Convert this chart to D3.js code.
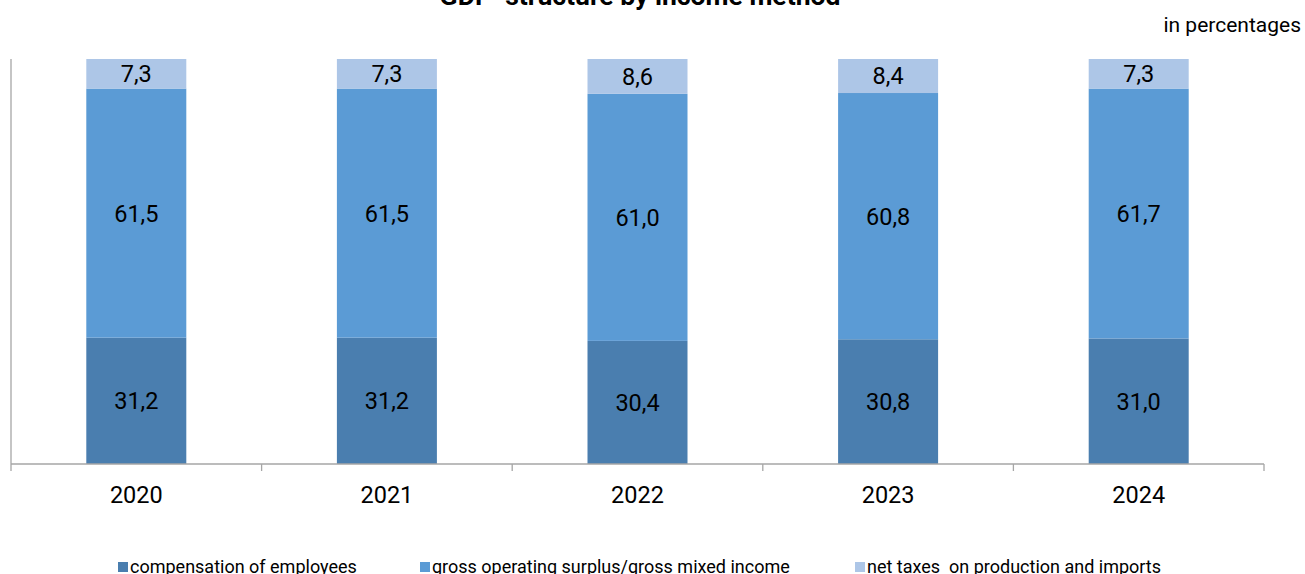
<!DOCTYPE html>
<html lang="en">
<head>
<meta charset="utf-8">
<script src="https://d3js.org/d3.v7.min.js"></script>
<style>
  body { margin: 0; background: #fff; }
  text { font-family: Roboto, "Liberation Sans", sans-serif; white-space: pre; }
</style>
<title>GDP structure by income method</title>
</head>
<body>
<div id="chart"></div>
<script>
  const years = ["2020", "2021", "2022", "2023", "2024"];
  const compensation = [31.2, 31.2, 30.4, 30.8, 31.0];
  const surplus = [61.5, 61.5, 61.0, 60.8, 61.7];
  const netTaxes = [7.3, 7.3, 8.6, 8.4, 7.3];
  const seriesNames = ["compensation of employees", "gross operating surplus/gross mixed income", "net taxes  on production and imports"];
  const colors = ["#4a7eaf", "#5b9bd5", "#adc6e7"];

  const W = 1305, H = 574;
  const margin = {top: 59, right: 41, bottom: 110, left: 11};
  const width = W - margin.left - margin.right,
        height = H - margin.top - margin.bottom;

  const svg = d3.select("#chart").append("svg")
    .attr("width", W)
    .attr("height", H);

  const g = svg.append("g")
    .attr("transform", `translate(${margin.left},${margin.top})`);

  const rows = years.map((y, i) => ({year: y, s0: compensation[i], s1: surplus[i], s2: netTaxes[i]}));
  const stacked = d3.stack().keys(["s0", "s1", "s2"])(rows);

  const x = d3.scaleBand().domain(years).range([0, width]).paddingInner(0).paddingOuter(0);
  const y = d3.scaleLinear().domain([0, 100]).range([height, 0]);
  const barW = 100;

  // bars + value labels
  stacked.forEach((layer, k) => {
    g.append("g").selectAll("rect")
      .data(layer)
      .join("rect")
        .attr("x", d => x(d.data.year) + x.bandwidth() / 2 - barW / 2)
        .attr("y", d => y(d[1]))
        .attr("width", barW)
        .attr("height", d => y(d[0]) - y(d[1]))
        .attr("fill", colors[k]);

    g.append("g").selectAll("text")
      .data(layer)
      .join("text")
        .attr("x", d => x(d.data.year) + x.bandwidth() / 2)
        .attr("y", d => (y(d[0]) + y(d[1])) / 2)
        .attr("dy", "0.36em")
        .attr("text-anchor", "middle")
        .style("font-size", "23.5px")
        .style("fill", "#000")
        .text(d => d3.format(".1f")(d[1] - d[0]).replace(".", ","));
  });

  // y axis line
  g.append("line")
    .attr("x1", 0).attr("x2", 0)
    .attr("y1", 0).attr("y2", height)
    .attr("stroke", "#a6a6a6").attr("stroke-width", 1.3);

  // x axis
  g.append("line")
    .attr("x1", 0).attr("x2", width)
    .attr("y1", height).attr("y2", height)
    .attr("stroke", "#a6a6a6").attr("stroke-width", 1.3);

  const tickPos = years.map(yr => x(yr)).concat([width]);
  g.append("g").selectAll("line")
    .data(tickPos)
    .join("line")
      .attr("x1", d => d).attr("x2", d => d)
      .attr("y1", height).attr("y2", height + 7)
      .attr("stroke", "#a6a6a6").attr("stroke-width", 1.3);

  g.append("g").selectAll("text")
    .data(years)
    .join("text")
      .attr("x", d => x(d) + x.bandwidth() / 2)
      .attr("y", height + 39)
      .attr("text-anchor", "middle")
      .style("font-size", "23.5px")
      .text(d => d);

  // title (cut at the top edge as in the original)
  svg.append("text")
    .attr("x", 640)
    .attr("y", 5)
    .attr("text-anchor", "middle")
    .style("font-size", "26.5px")
    .style("font-weight", "bold")
    .text("GDP  structure by income method");

  svg.append("text")
    .attr("x", 1301)
    .attr("y", 32)
    .attr("text-anchor", "end")
    .style("font-size", "21px")
    .text("in percentages");

  // legend
  const legendX = [118, 420, 855];
  const legend = svg.append("g");
  seriesNames.forEach((name, i) => {
    legend.append("rect")
      .attr("x", legendX[i])
      .attr("y", 562)
      .attr("width", 10)
      .attr("height", 10)
      .attr("fill", colors[i]);
    legend.append("text")
      .attr("x", legendX[i] + 12)
      .attr("y", 573)
      .style("font-size", "18px")
      .text(name);
  });
</script>
</body>
</html>
